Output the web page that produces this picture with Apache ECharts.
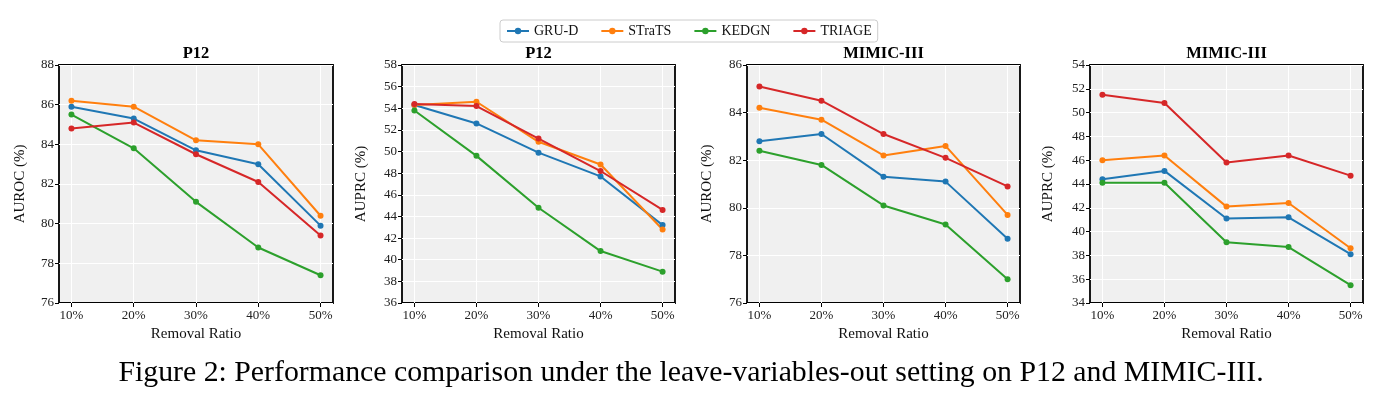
<!DOCTYPE html>
<html>
<head>
<meta charset="utf-8">
<script src="https://cdn.jsdelivr.net/npm/echarts@6/dist/echarts.min.js"></script>
<style>
  html, body { margin: 0; padding: 0; background: #fff; }
  #main { width: 1388px; height: 404px; }
</style>
</head>
<body>
<div id="main"></div>
<script>
  // values
  var categories = ['10%', '20%', '30%', '40%', '50%'];
  var methods = ['GRU-D', 'STraTS', 'KEDGN', 'TRIAGE'];
  var colors = ['#1f77b4', '#ff7f0e', '#2ca02c', '#d62728'];

  var p12Auroc = [
    [85.9, 85.3, 83.7, 83.0, 79.9],
    [86.2, 85.9, 84.2, 84.0, 80.4],
    [85.5, 83.8, 81.1, 78.8, 77.4],
    [84.8, 85.1, 83.5, 82.1, 79.4]
  ];
  var p12Auprc = [
    [54.3, 52.6, 49.9, 47.7, 43.2],
    [54.3, 54.6, 50.9, 48.8, 42.8],
    [53.8, 49.6, 44.8, 40.8, 38.9],
    [54.4, 54.2, 51.2, 48.2, 44.6]
  ];
  var mimicAuroc = [
    [82.8, 83.1, 81.3, 81.1, 78.7],
    [84.2, 83.7, 82.2, 82.6, 79.7],
    [82.4, 81.8, 80.1, 79.3, 77.0],
    [85.1, 84.5, 83.1, 82.1, 80.9]
  ];
  var mimicAuprc = [
    [44.4, 45.1, 41.1, 41.2, 38.1],
    [46.0, 46.4, 42.1, 42.4, 38.6],
    [44.1, 44.1, 39.1, 38.7, 35.5],
    [51.5, 50.8, 45.8, 46.4, 44.7]
  ];

  var panels = [
    { title: 'P12', yName: 'AUROC (%)', data: p12Auroc, min: 76, max: 88, left: 59, width: 274, gap: 31 },
    { title: 'P12', yName: 'AUPRC (%)', data: p12Auprc, min: 36, max: 58, left: 402, width: 273, gap: 33 },
    { title: 'MIMIC-III', yName: 'AUROC (%)', data: mimicAuroc, min: 76, max: 86, left: 747, width: 273, gap: 32 },
    { title: 'MIMIC-III', yName: 'AUPRC (%)', data: mimicAuprc, min: 34, max: 54, left: 1090, width: 273, gap: 34 }
  ];

  var font = 'Liberation Serif';
  var tickIdx = categories.map(function (c, i) { return i; });

  var grid = [], xAxis = [], yAxis = [], series = [], graphic = [];
  panels.forEach(function (p, k) {
    grid.push({
      left: p.left, top: 65, width: p.width, height: 238,
      show: true, backgroundColor: '#f0f0f0', borderColor: '#000', borderWidth: 1.8
    });
    xAxis.push({
      type: 'value', gridIndex: k, min: -0.2, max: 4.2,
      name: 'Removal Ratio', nameLocation: 'middle', nameGap: 24,
      nameTextStyle: { fontFamily: font, fontSize: 15, color: '#111' },
      axisLine: { show: false, onZero: false },
      axisTick: { show: true, inside: false, length: 4, lineStyle: { color: '#000' }, customValues: tickIdx },
      axisLabel: {
        fontFamily: font, fontSize: 13, color: '#222', margin: 6, customValues: tickIdx,
        formatter: function (v) { return categories[Math.round(v)]; }
      },
      splitLine: { show: true, lineStyle: { color: '#fff', width: 1 } }
    });
    yAxis.push({
      type: 'value', gridIndex: k, min: p.min, max: p.max, interval: 2,
      name: p.yName, nameLocation: 'middle', nameGap: p.gap, nameRotate: 90,
      nameTextStyle: { fontFamily: font, fontSize: 15, color: '#111' },
      axisLine: { show: false, onZero: false },
      axisTick: { show: true, inside: false, length: 4, lineStyle: { color: '#000' } },
      axisLabel: { fontFamily: font, fontSize: 13, color: '#222', margin: 5 },
      splitLine: { show: true, lineStyle: { color: '#fff', width: 1 } }
    });
    p.data.forEach(function (vals, m) {
      series.push({
        type: 'line', name: methods[m], xAxisIndex: k, yAxisIndex: k,
        data: vals.map(function (v, i) { return [i, v]; }),
        symbol: 'circle', symbolSize: 6, color: colors[m],
        lineStyle: { width: 2 }, animation: false
      });
    });
    graphic.push({
      type: 'text', x: p.left + p.width / 2, y: 54,
      style: { text: p.title, fontFamily: font, fontSize: 16.5, fontWeight: 'bold', fill: '#000', textAlign: 'center', textVerticalAlign: 'middle' }
    });
  });

  graphic.push({
    type: 'text', x: 691, y: 373,
    style: {
      text: 'Figure 2: Performance comparison under the leave-variables-out setting on P12 and MIMIC-III.',
      fontFamily: font, fontSize: 29.8, fill: '#000', textAlign: 'center', textVerticalAlign: 'middle'
    }
  });

  var myChart = echarts.init(document.getElementById('main'), null, { renderer: 'canvas' });
  myChart.setOption({
    animation: false,
    legend: {
      data: methods, top: 20, left: 500,
      itemWidth: 22, itemHeight: 8, itemGap: 22,
      padding: [4, 6], borderColor: '#ccc', borderWidth: 1, borderRadius: 3,
      textStyle: { fontFamily: font, fontSize: 14, color: '#111' }
    },
    grid: grid,
    xAxis: xAxis,
    yAxis: yAxis,
    series: series,
    graphic: graphic
  });
</script>
</body>
</html>
